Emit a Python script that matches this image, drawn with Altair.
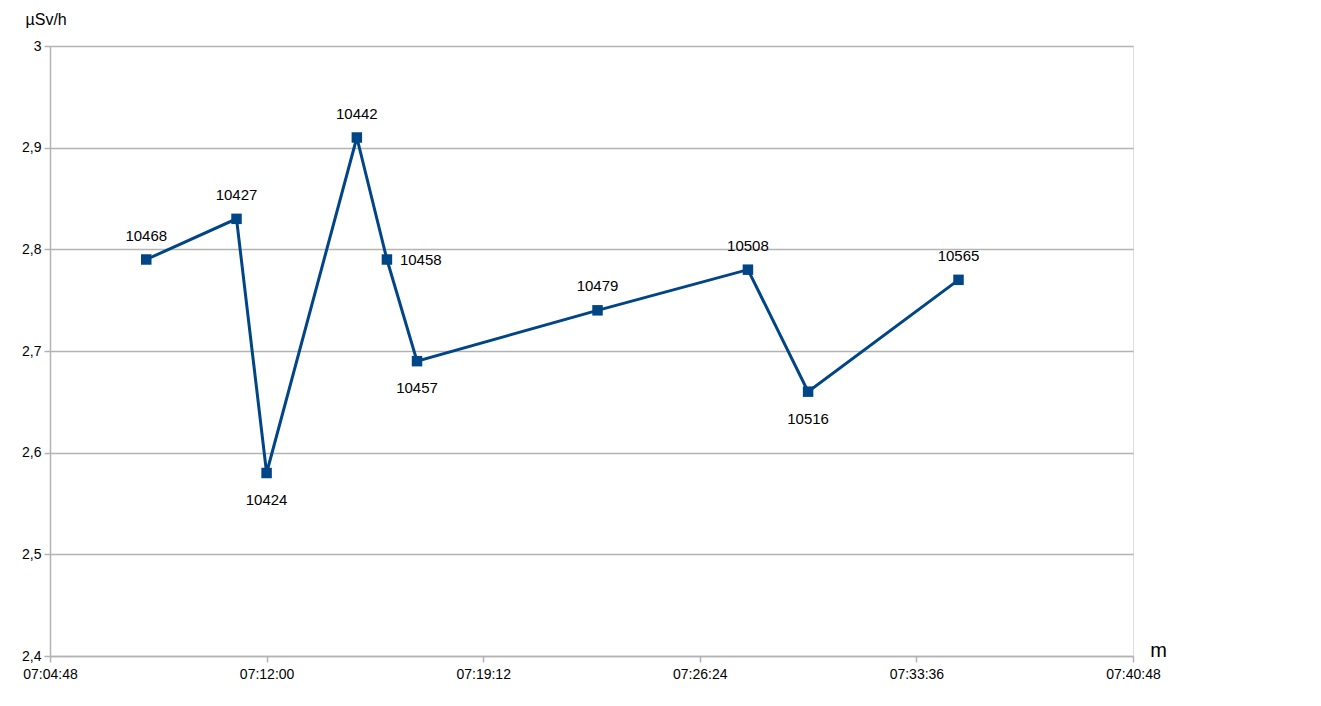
import altair as alt
import pandas as pd

times = ["07:08:00", "07:11:00", "07:12:00", "07:15:00", "07:16:00",
         "07:17:00", "07:23:00", "07:28:00", "07:30:00", "07:35:00"]
values = [2.79, 2.83, 2.58, 2.91, 2.79, 2.69, 2.74, 2.78, 2.66, 2.77]
labels = ["10468", "10427", "10424", "10442", "10458",
          "10457", "10479", "10508", "10516", "10565"]
placement = ["above", "above", "below", "above", "right",
             "below", "above", "above", "below", "above"]

x_ticks = ["07:04:48", "07:12:00", "07:19:12", "07:26:24", "07:33:36", "07:40:48"]
y_ticks = [2.4, 2.5, 2.6, 2.7, 2.8, 2.9, 3.0]

def ts(t):
    return "2000-01-01T" + t + "Z"

df = pd.DataFrame({
    "t": [ts(t) for t in times],
    "v": values,
    "lab": labels,
    "pos": placement,
})

FONT = "Liberation Sans"
COLOR = "#004586"
GRID = "#b3b3b3"

tick_dt = [alt.DateTime(year=2000, month=1, date=1,
                        hours=int(t[0:2]), minutes=int(t[3:5]), seconds=int(t[6:8]), utc=True)
           for t in x_ticks]

x_enc = alt.X(
    "t:T",
    scale=alt.Scale(type="utc", domain=[tick_dt[0], tick_dt[-1]], nice=False),
    axis=alt.Axis(
        values=tick_dt, labelExpr="utcFormat(datum.value, '%H:%M:%S')",
        grid=False, domainColor=GRID, tickColor=GRID, tickSize=6, tickWidth=1.5,
        domainWidth=1.5,
        labelFont=FONT, labelFontSize=14, labelColor="#000000", labelPadding=5,
        labelAngle=0, labelFlush=False, labelOverlap=False,
        title="m", titleFont=FONT, titleFontSize=20, titleFontWeight="normal",
        titleColor="#000000", titleAngle=0, titleX=1108, titleY=-6,
        titleAlign="center", titleBaseline="middle",
    ),
)
y_enc = alt.Y(
    "v:Q",
    scale=alt.Scale(domain=[2.4, 3.0], nice=False, zero=False),
    axis=alt.Axis(
        values=y_ticks, labelExpr="replace(format(datum.value, '.1~f'), '.', ',')",
        grid=True, gridColor=GRID, gridWidth=1.5,
        domainColor=GRID, domainWidth=1.5, tickColor=GRID, tickSize=6, tickWidth=1.5,
        labelFont=FONT, labelFontSize=14, labelColor="#000000", labelPadding=3,
        title="µSv/h", titleFont=FONT, titleFontSize=16, titleFontWeight="normal",
        titleColor="#000000", titleAngle=0, titleX=-25, titleY=-27,
        titleAlign="left", titleBaseline="middle",
    ),
)

base = alt.Chart(df)

line = base.mark_line(color=COLOR, strokeWidth=3).encode(x=x_enc, y=y_enc)
pts = base.mark_point(shape="square", filled=True, size=110, color=COLOR, opacity=1).encode(
    x="t:T", y="v:Q")

txt_kw = dict(font=FONT, fontSize=15, color="#000000", baseline="middle")
above = base.transform_filter(alt.datum.pos == "above").mark_text(
    align="center", dy=-24, **txt_kw).encode(x="t:T", y="v:Q", text="lab:N")
below = base.transform_filter(alt.datum.pos == "below").mark_text(
    align="center", dy=27, **txt_kw).encode(x="t:T", y="v:Q", text="lab:N")
right = base.transform_filter(alt.datum.pos == "right").mark_text(
    align="left", dx=13, **txt_kw).encode(x="t:T", y="v:Q", text="lab:N")

chart = alt.layer(line, pts, above, below, right).properties(
    width=1083, height=610,
    autosize=alt.AutoSizeParams(type="none"),
    padding={"left": 42, "top": 38, "right": 180, "bottom": 40},
).configure_view(stroke=GRID, strokeWidth=1.5).configure(background="white")

chart.save("out.html", embed_options={"renderer": "svg", "actions": False})
